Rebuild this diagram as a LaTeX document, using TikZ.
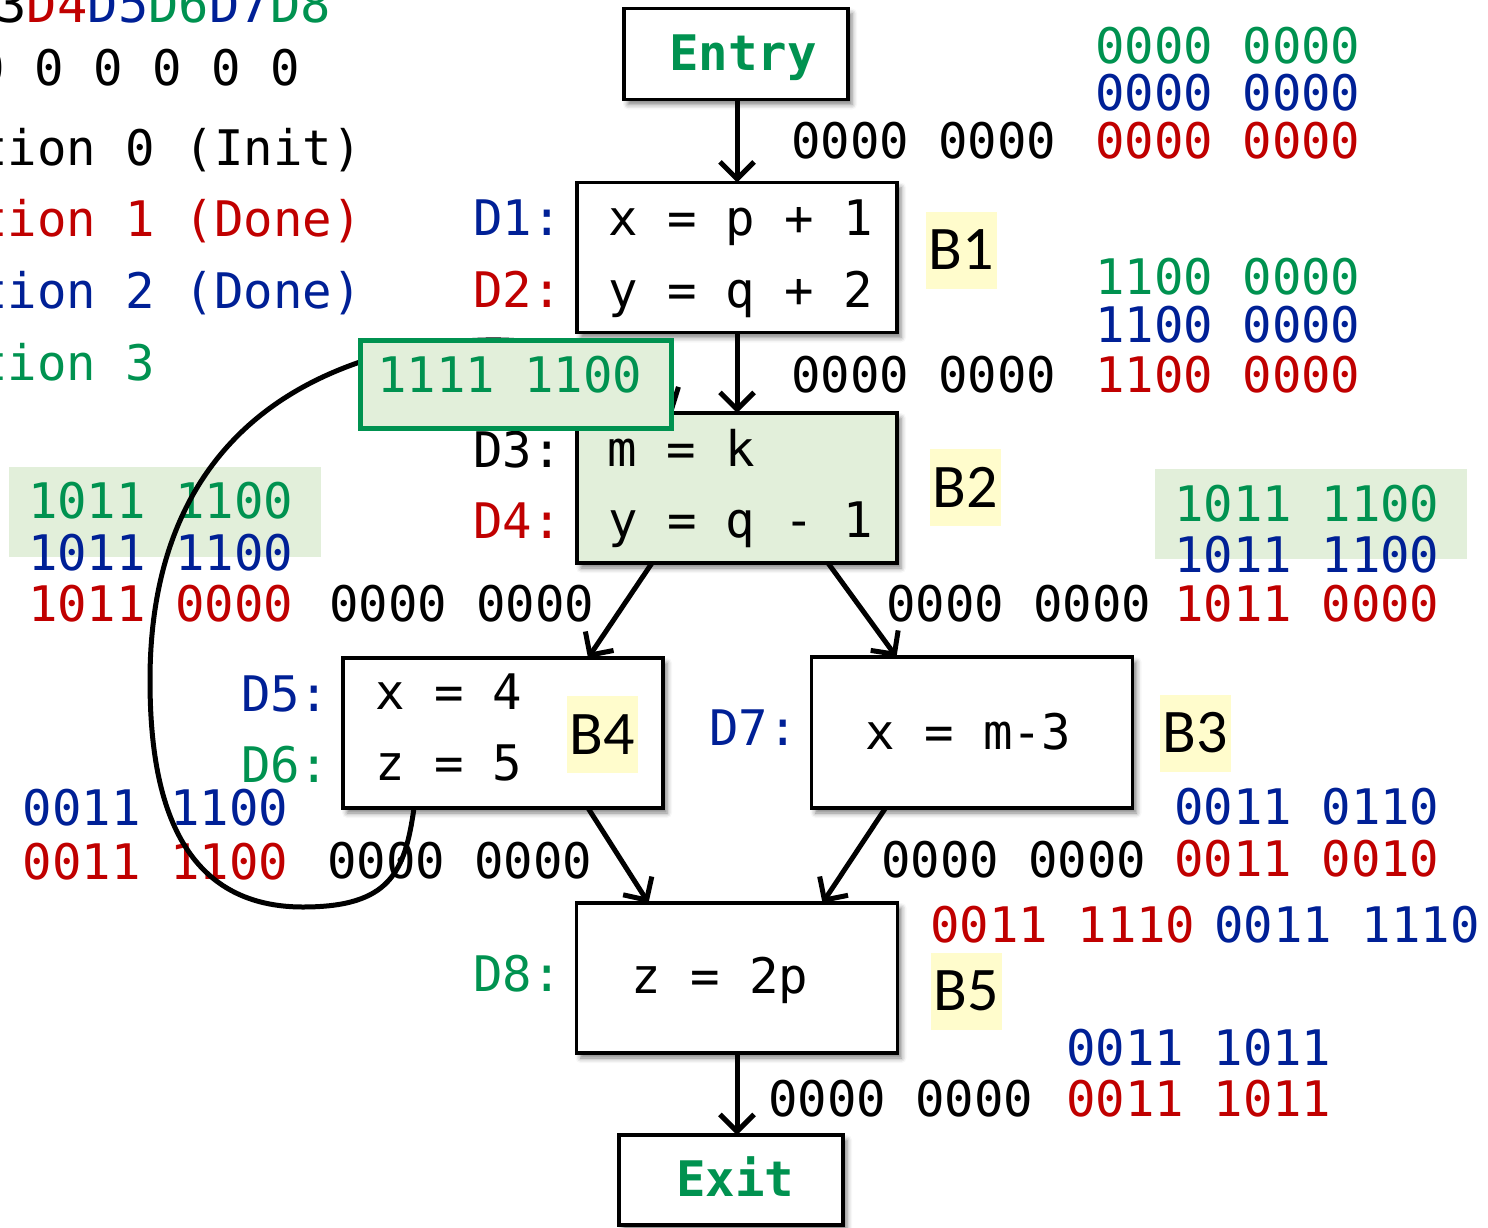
\documentclass[tikz,border=0pt]{standalone}
\usepackage{fontspec}
\setmonofont{DejaVu Sans Mono}
\newfontfamily\calib{Carlito}
\usetikzlibrary{arrows.meta,shadows.blur,calc}
\definecolor{cgreen}{RGB}{0,146,80}
\definecolor{cblue}{RGB}{0,32,150}
\definecolor{cred}{RGB}{192,0,0}
\definecolor{lgreen}{RGB}{226,239,218}
\definecolor{lyellow}{RGB}{255,252,204}
\begin{document}
\begin{tikzpicture}[x=1pt,y=-1pt,
  every node/.style={inner sep=0pt, outer sep=0pt},
  mono/.style={font=\fontsize{49}{58}\selectfont\ttfamily, anchor=base west},
  monoe/.style={font=\fontsize{49}{58}\selectfont\ttfamily, anchor=base east},
  monob/.style={font=\fontsize{49}{58}\selectfont\ttfamily\bfseries, anchor=base west, text=cgreen},
  blk/.style={draw=black, line width=3.6pt, fill=white,
    blur shadow={shadow xshift=4pt, shadow yshift=-5pt, shadow blur radius=5pt, shadow opacity=50}},
  blabel/.style={fill=lyellow, minimum width=71pt, minimum height=77pt, font=\calib\fontsize{62}{70}\selectfont},
  arr/.style={line width=5pt, -{Straight Barb[length=17pt,width=34pt]}},
]
\useasboundingbox (0,0) rectangle (1488,1228);
\clip (0,0) rectangle (1488,1228);

% green highlights
\fill[lgreen] (9,467) rectangle (321,557);
\fill[lgreen] (1155,469) rectangle (1467,559);

% legend at top-left
\node[monoe, font=\fontsize{50.5}{58}\selectfont\ttfamily] (hdr) at (331,23) {\textcolor{cblue}{D1}\textcolor{cred}{D2}D3\textcolor{cred}{D4}\textcolor{cblue}{D5}\textcolor{cgreen}{D6}\textcolor{cblue}{D7}\textcolor{cgreen}{D8}};
\node[monoe] (zeros) at (300,86) {0 0 0 0 0 0 0 0};
\node[monoe] (it0) at (362,165) {Iteration 0 (Init)};
\node[monoe, text=cred] (it1) at (362,236) {Iteration 1 (Done)};
\node[monoe, text=cblue] (it2) at (362,308) {Iteration 2 (Done)};
\node[mono, text=cgreen] (it3) at (-169,380) {Iteration 3};

% boxes
\node[blk, minimum width=224pt, minimum height=91pt] (entry) at (736,54) {};
\node[blk, minimum width=320pt, minimum height=150pt] (b1) at (737,257.5) {};
\node[blk, minimum width=320pt, minimum height=150pt, fill=lgreen] (b2) at (737,488) {};
\node[blk, minimum width=320pt, minimum height=150pt] (b4) at (503,733) {};
\node[blk, minimum width=321pt, minimum height=151pt] (b3) at (972,732.5) {};
\node[blk, minimum width=321pt, minimum height=150pt] (b5) at (737,978) {};
\node[blk, minimum width=224pt, minimum height=90pt] (exit) at (731,1180) {};

% box texts
\node[monob] (entrytxt) at (669,71) {Entry};
\node[monob] (exittxt) at (676,1196) {Exit};
\node[mono] (c1) at (608,235) {x = p + 1};
\node[mono] (c2) at (608,307) {y = q + 2};
\node[mono] (c3) at (607,466) {m = k};
\node[mono] (c4) at (608,537) {y = q - 1};
\node[mono] (c5) at (375,709) {x = 4};
\node[mono] (c6) at (375,780) {z = 5};
\node[mono] (c7) at (865,749) {x = m-3};
\node[mono] (c8) at (631,993) {z = 2p};

% D labels
\node[mono, text=cblue] (d1) at (473,235) {D1:};
\node[mono, text=cred] (d2) at (473,307) {D2:};
\node[mono] (d3) at (473,467) {D3:};
\node[mono, text=cred] (d4) at (473,538) {D4:};
\node[mono, text=cblue] (d5) at (241,711) {D5:};
\node[mono, text=cgreen] (d6) at (241,782) {D6:};
\node[mono, text=cblue] (d7) at (709,745) {D7:};
\node[mono, text=cgreen] (d8) at (473,991) {D8:};

% B labels
\node[blabel] (lb1) at (961,250) {B1};
\node[blabel] (lb2) at (965,487.5) {B2};
\node[blabel] (lb4) at (602.5,734.5) {B4};
\node[blabel] (lb3) at (1195.5,733) {B3};
\node[blabel] (lb5) at (966.5,991) {B5};

% bit vectors, top right
\node[mono, text=cgreen] (v1) at (1095,64) {0000 0000};
\node[mono, text=cblue] (v2) at (1095,111) {0000 0000};
\node[mono, text=cred] (v3) at (1095,158) {0000 0000};
\node[mono] (v4) at (791,158) {0000 0000};
\node[mono, text=cgreen] (v5) at (1095,294) {1100 0000};
\node[mono, text=cblue] (v6) at (1095,342) {1100 0000};
\node[mono, text=cred] (v7) at (1095,392) {1100 0000};
\node[mono] (v8) at (791,392) {0000 0000};
% right middle
\node[mono, text=cgreen] (v9) at (1174,521) {1011 1100};
\node[mono, text=cblue] (v10) at (1174,572) {1011 1100};
\node[mono, text=cred] (v11) at (1174,621) {1011 0000};
\node[mono] (v12) at (886,621) {0000 0000};
\node[mono, text=cblue] (v13) at (1174,824) {0011 0110};
\node[mono, text=cred] (v14) at (1174,876) {0011 0010};
\node[mono] (v15) at (881,877) {0000 0000};
% left
\node[mono, text=cgreen] (v16) at (28,518) {1011 1100};
\node[mono, text=cblue] (v17) at (28,570) {1011 1100};
\node[mono, text=cred] (v18) at (28,621) {1011 0000};
\node[mono] (v19) at (329,621) {0000 0000};
\node[mono, text=cblue] (v20) at (23,825) {0011 1100};
\node[mono, text=cred] (v21) at (23,879) {0011 1100};
\node[mono] (v22) at (327,878) {0000 0000};
% bottom right
\node[mono, text=cred] (v23) at (930,942) {0011 1110};
\node[mono, text=cblue] (v24) at (1214,942) {0011 1110};
\node[mono, text=cblue] (v25) at (1066,1065) {0011 1011};
\node[mono, text=cred] (v26) at (1066,1116) {0011 1011};
\node[mono] (v27) at (768,1116) {0000 0000};

% edges
\draw[arr] (b1.north |- entry.south) -- (b1.north);
\draw[arr] (b1.south) -- (b2.north);
\draw[arr] ($(b2.south west)+(75,0)$) -- ($(b4.north east)+(-75,0)$);
\draw[arr] ($(b2.south east)+(-69,0)$) -- ($(b3.north west)+(85,0)$);
\draw[arr] ($(b4.south east)+(-75,0)$) -- ($(b5.north west)+(72,0)$);
\draw[arr] ($(b3.south west)+(74,0)$) -- ($(b5.north east)+(-75,0)$);
\draw[arr] (b5.south) -- (b5.south |- exit.north);

% back edge B4 -> B2
\draw[arr] ($(b4.south west)+(71,0)$) .. controls (405,872) and (390,907) .. (303,907)
   .. controls (170,907) and (150,780) .. (150,680)
   .. controls (150,520) and (220,410) .. (360,362)
   .. controls (520,310) and (645,360) .. ($(b2.north west)+(96,0)$);

% green result box on top
\node[draw=cgreen, line width=5pt, fill=lgreen, minimum width=311pt, minimum height=88pt] (gbox) at (515.5,384) {};
\node[mono, text=cgreen] (gtxt) at (377,392) {1111 1100};
\end{tikzpicture}
\end{document}
